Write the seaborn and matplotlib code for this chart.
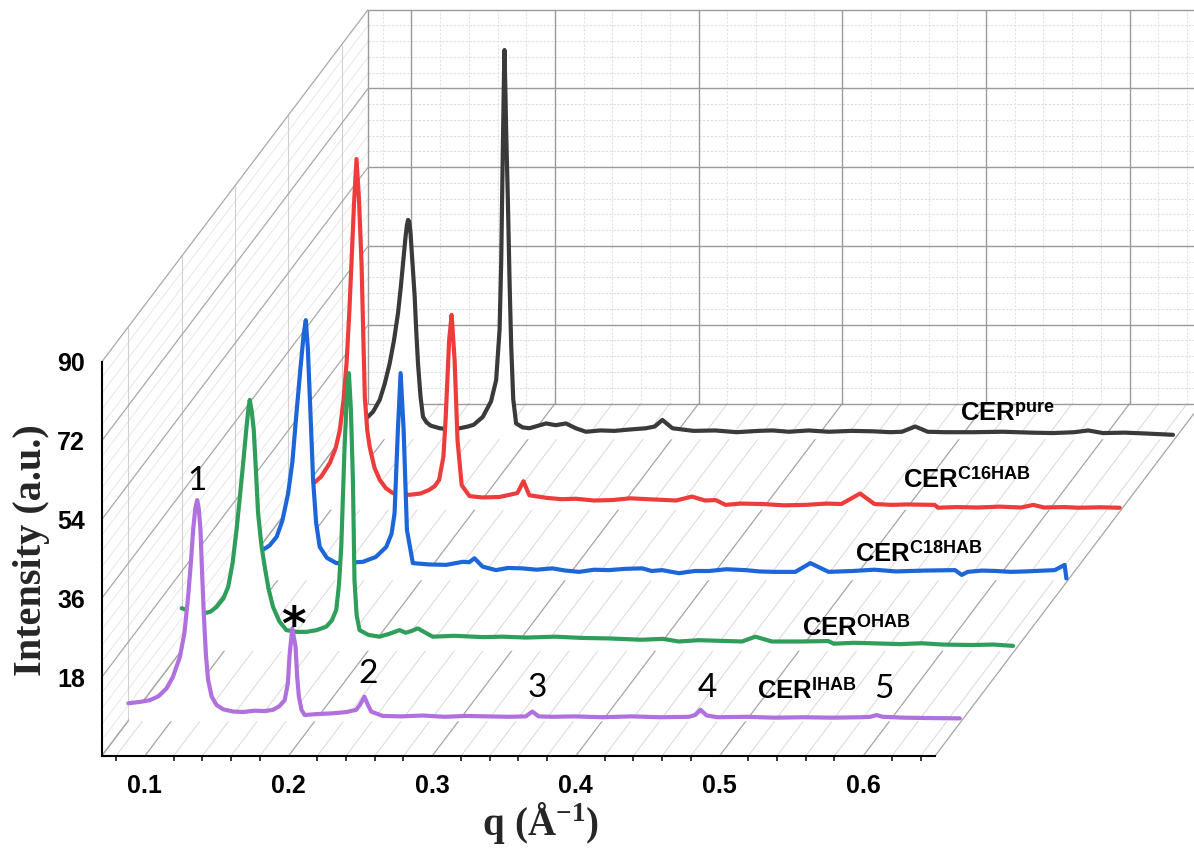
import matplotlib
matplotlib.use("Agg")
import numpy as np
import pandas as pd
import matplotlib.pyplot as plt
import seaborn as sns
from matplotlib.ticker import FixedLocator

# ---------------- data ----------------
series_names = ["pure", "C16HAB", "C18HAB", "OHAB", "IHAB"]
series_colors = ["#3a3a3a", "#ee3b3b", "#1c66d9", "#2e9e5a", "#b070de"]

q_pure = [0.070, 0.078, 0.0862, 0.0920, 0.0966, 0.1000, 0.1035, 0.1065, 0.1093, 0.1112,
          0.1128, 0.1145, 0.1155, 0.1163, 0.1171, 0.1180, 0.1186, 0.1197, 0.1209, 0.1220,
          0.1232, 0.1250, 0.1267, 0.1290, 0.1320, 0.1383, 0.1450, 0.1522, 0.1580, 0.1620,
          0.1683, 0.1740, 0.1776, 0.1800, 0.1811, 0.1822, 0.1830, 0.1834, 0.1840, 0.1846,
          0.1857, 0.1870, 0.1881, 0.1895, 0.1915, 0.1960, 0.2008, 0.2060, 0.2124, 0.2190,
          0.2262, 0.2330, 0.2401, 0.2500, 0.2600, 0.2700, 0.2818, 0.2880, 0.2933, 0.3003,
          0.3150, 0.3300, 0.3450, 0.3600, 0.3700, 0.3813, 0.3950, 0.4090, 0.4250, 0.4400,
          0.4520, 0.4600, 0.4693, 0.4780, 0.4900, 0.5100, 0.5300, 0.5500, 0.5650, 0.5800,
          0.5897, 0.6000, 0.6150, 0.6300, 0.6487]
i_pure = [3.1, 3.5, 4.3, 6.2, 8.9, 12.5, 17.2, 22.5, 28.7, 34.5,
          40.1, 46.0, 48.8, 50.0, 49.6, 47.0, 43.9, 38.5, 32.4, 24.5,
          17.2, 9.5, 5.0, 3.8, 3.0, 2.4, 2.2, 2.4, 2.8, 3.2,
          5.0, 8.5, 13.4, 25.0, 40.1, 65.0, 82.0, 88.8, 80.0, 70.0,
          55.3, 35.0, 21.0, 9.0, 3.5, 2.6, 2.4, 2.9, 3.5, 3.1,
          3.5, 2.4, 1.6, 1.9, 1.8, 2.1, 2.4, 2.8, 4.3, 2.4,
          1.8, 1.9, 1.5, 1.8, 1.9, 1.6, 1.9, 1.6, 1.8, 1.7,
          1.5, 1.6, 2.8, 1.6, 1.5, 1.5, 1.6, 1.4, 1.3, 1.5,
          1.9, 1.3, 1.4, 1.2, 0.9]

q_c16 = [0.070, 0.078, 0.0863, 0.093, 0.0990, 0.1030, 0.1059, 0.1085, 0.1106, 0.1125,
         0.1140, 0.1158, 0.1175, 0.1192, 0.1210, 0.1222, 0.1233, 0.1250, 0.1267, 0.1300,
         0.1337, 0.1380, 0.1427, 0.1545, 0.1620, 0.1680, 0.1720, 0.1750, 0.1780, 0.1795,
         0.1820, 0.1837, 0.1858, 0.1878, 0.1907, 0.1962, 0.2050, 0.2170, 0.2295, 0.2337,
         0.2378, 0.2500, 0.2600, 0.2700, 0.2830, 0.2955, 0.3080, 0.3200, 0.3400, 0.3510,
         0.3600, 0.3675, 0.3744, 0.3850, 0.4000, 0.4150, 0.4300, 0.4450, 0.4550, 0.4680,
         0.4780, 0.4900, 0.5000, 0.5200, 0.5222, 0.5350, 0.5500, 0.5650, 0.5800, 0.5886,
         0.5960, 0.6100, 0.6200, 0.6350, 0.6487]
i_c16 = [3.9, 4.4, 5.5, 7.5, 10.6, 14.0, 18.1, 25.0, 33.4, 45.0,
         56.2, 70.0, 80.0, 71.0, 56.2, 40.0, 25.6, 18.0, 14.2, 9.5,
         6.7, 4.8, 3.7, 3.3, 3.6, 4.4, 5.3, 6.7, 12.0, 20.4,
         38.7, 44.4, 34.0, 15.8, 5.5, 3.0, 2.7, 2.8, 3.7, 6.4,
         3.2, 2.6, 2.3, 2.4, 2.0, 2.1, 2.5, 2.3, 2.0, 2.9,
         2.0, 2.1, 1.0, 1.3, 1.2, 0.9, 1.0, 1.3, 1.2, 3.6,
         1.2, 1.0, 1.1, 1.0, 0.35, 0.5, 0.4, 0.6, 0.4, 1.0,
         0.4, 0.5, 0.35, 0.45, 0.35]

q_c18 = [0.070, 0.078, 0.0874, 0.094, 0.099, 0.103, 0.107, 0.110, 0.1128, 0.1155,
         0.1178, 0.1193, 0.1207, 0.1221, 0.1244, 0.1265, 0.1290, 0.1340, 0.1406, 0.1500,
         0.1591, 0.1680, 0.1753, 0.1790, 0.1811, 0.1834, 0.1853, 0.1874, 0.1897, 0.1938,
         0.2050, 0.2170, 0.2286, 0.2330, 0.2367, 0.2424, 0.2517, 0.2600, 0.2700, 0.2800,
         0.2910, 0.3000, 0.3096, 0.3200, 0.3300, 0.3420, 0.3536, 0.3600, 0.3674, 0.3790,
         0.3900, 0.4000, 0.4120, 0.4253, 0.4350, 0.4450, 0.4600, 0.4705, 0.4832, 0.5000,
         0.5150, 0.5300, 0.5500, 0.5712, 0.5759, 0.5800, 0.5900, 0.6000, 0.6100, 0.6200,
         0.6406, 0.6475, 0.6487]
i_c18 = [5.6, 5.8, 6.4, 7.8, 9.8, 13.5, 19.7, 27.0, 38.0, 48.0,
         56.0, 59.3, 53.0, 41.8, 22.8, 13.0, 7.5, 5.0, 3.8, 3.9,
         4.1, 5.2, 7.5, 10.5, 15.2, 34.2, 47.2, 34.2, 11.4, 3.8,
         3.5, 3.4, 4.1, 4.0, 4.9, 3.0, 2.2, 2.7, 2.6, 2.3,
         2.6, 2.1, 1.8, 2.3, 2.2, 2.5, 2.6, 2.0, 2.2, 1.5,
         2.0, 2.0, 2.4, 2.2, 1.9, 1.8, 1.8, 3.8, 1.8, 2.0,
         2.3, 1.9, 2.1, 2.2, 1.1, 1.8, 2.1, 2.0, 1.8, 1.9,
         2.2, 3.4, 0.3]

q_ohab = [0.070, 0.077, 0.085, 0.090, 0.0943, 0.099, 0.1024, 0.1055, 0.1082, 0.1105,
          0.1128, 0.1150, 0.1164, 0.1174, 0.1188, 0.1202, 0.1217, 0.1232, 0.1255, 0.1278,
          0.1305, 0.1336, 0.1380, 0.1429, 0.1500, 0.1568, 0.1640, 0.1707, 0.1745, 0.1776,
          0.1795, 0.1811, 0.1834, 0.1850, 0.1864, 0.1878, 0.1892, 0.1903, 0.1918, 0.1938,
          0.2000, 0.2077, 0.2150, 0.2216, 0.2260, 0.2300, 0.2343, 0.2447, 0.2600, 0.2800,
          0.2933, 0.3100, 0.3300, 0.3500, 0.3675, 0.3900, 0.4050, 0.4160, 0.4300, 0.4400,
          0.4600, 0.4693, 0.4808, 0.5000, 0.5200, 0.5240, 0.5380, 0.5500, 0.5700, 0.5850,
          0.6000, 0.6200, 0.6350, 0.6487]
i_ohab = [9.6, 8.8, 8.4, 8.8, 9.9, 11.8, 14.5, 20.0, 27.5, 35.0,
          42.7, 50.5, 55.0, 57.2, 54.5, 50.3, 41.0, 31.3, 24.0, 19.1,
          14.0, 9.9, 6.6, 4.6, 4.2, 4.2, 4.6, 5.4, 6.8, 9.2,
          15.0, 23.7, 46.5, 58.0, 63.3, 55.0, 38.9, 16.0, 8.0, 4.6,
          3.5, 3.1, 3.8, 4.6, 4.0, 4.4, 5.0, 3.1, 3.3, 3.0,
          3.1, 2.9, 3.1, 2.8, 2.7, 2.4, 2.6, 2.0, 2.3, 2.2,
          2.0, 3.1, 2.0, 2.0, 2.1, 1.5, 1.7, 1.6, 1.4, 1.6,
          1.3, 1.2, 1.3, 1.0]

q_ihab = [0.070, 0.078, 0.085, 0.091, 0.0966, 0.101, 0.1059, 0.109, 0.1116, 0.1135,
          0.1151, 0.1166, 0.1179, 0.1190, 0.1202, 0.1213, 0.1225, 0.1240, 0.1255, 0.128,
          0.1314, 0.136, 0.1429, 0.150, 0.158, 0.165, 0.1707, 0.175, 0.1788, 0.1810,
          0.1823, 0.1841, 0.1864, 0.1875, 0.1887, 0.1905, 0.1927, 0.200, 0.2123, 0.222,
          0.2286, 0.2315, 0.2343, 0.2365, 0.239, 0.247, 0.260, 0.275, 0.290, 0.305,
          0.320, 0.335, 0.3466, 0.3512, 0.3555, 0.365, 0.380, 0.400, 0.420, 0.440,
          0.460, 0.4645, 0.4682, 0.4725, 0.480, 0.500, 0.520, 0.540, 0.560, 0.580,
          0.5865, 0.5908, 0.595, 0.610, 0.630, 0.6487]
i_ihab = [4.0, 4.3, 4.7, 5.6, 7.4, 10.0, 14.6, 20.0, 28.3, 36.0,
          43.6, 48.5, 50.4, 48.5, 43.6, 34.0, 24.5, 15.0, 9.3, 5.5,
          3.6, 2.6, 2.1, 2.0, 2.3, 2.2, 2.5, 3.3, 4.7, 8.5,
          15.4, 21.1, 16.9, 10.0, 5.5, 2.5, 1.3, 1.5, 1.7, 2.0,
          2.5, 3.8, 5.5, 3.8, 2.1, 1.1, 1.0, 1.2, 0.9, 1.1,
          1.0, 0.9, 1.0, 2.1, 1.0, 0.9, 1.0, 0.8, 1.0, 0.8,
          0.9, 1.3, 2.5, 1.2, 0.8, 0.9, 0.7, 0.8, 0.7, 0.8,
          0.9, 1.3, 0.9, 0.7, 0.6, 0.55]

x_ticks = [0.1, 0.2, 0.3, 0.4, 0.5, 0.6]
x_tick_labels = ["0.1", "0.2", "0.3", "0.4", "0.5", "0.6"]
y_ticks = [18, 36, 54, 72, 90]
y_tick_labels = ["18", "36", "54", "72", "90"]
peak_marks = ["1", "*", "2", "3", "4", "5"]

# ---------------- style / geometry ----------------
sns.set_theme(style="white")
plt.rcParams["font.family"] = ["Liberation Sans", "DejaVu Sans"]
plt.rcParams["mathtext.fontset"] = "custom"
plt.rcParams["mathtext.rm"] = "Liberation Serif:bold"
plt.rcParams["mathtext.it"] = "Liberation Serif:bold"
plt.rcParams["mathtext.bf"] = "Liberation Serif:bold"
plt.rcParams["mathtext.sf"] = "Liberation Sans:bold"

Q_LO, Q_HI, I_TOP = 0.07, 0.65, 90
DQ = 53.3 / 1436.7      # horizontal shift per depth step (in q units)
DI = 70.5 / 4.378       # vertical shift per depth step (in intensity units)
BACK = 5.0
depths = [4.5, 3.5, 2.5, 1.5, 0.5]

fig = plt.figure(figsize=(11.94, 8.5), dpi=100)
ax = fig.add_axes([0.08518, 0.11059, 0.6979, 0.46353])
ax.patch.set_alpha(0)


def line(xs, ys, **kw):
    ax.plot(xs, ys, clip_on=False, solid_capstyle="butt", **kw)


major_q = list(x_ticks)
minor_q = [round(0.08 + 0.02 * k, 2) for k in range(29)]
minor_q = [v for v in minor_q if min(abs(v - m) for m in major_q) > 1e-6 and v < Q_HI]
major_i = [0, 18, 36, 54, 72, 90]
minor_i = [round(3.6 * k, 1) for k in range(1, 25)]
minor_i = [v for v in minor_i if min(abs(v - m) for m in major_i) > 1e-6]

# floor (I = 0 plane)
for qv in minor_q:
    line([qv, qv + BACK * DQ], [0, BACK * DI], color="#d8d8d8", lw=0.7, zorder=0.5)
for qv in [Q_LO] + major_q + [Q_HI]:
    line([qv, qv + BACK * DQ], [0, BACK * DI], color="#a5a5a5", lw=0.9, zorder=0.6)

# back wall
bx0, bx1, by0 = Q_LO + BACK * DQ, Q_HI + BACK * DQ, BACK * DI
for iv in minor_i:
    line([bx0, bx1], [iv + by0] * 2, color="#dedede", lw=0.8, ls=(0, (2, 1.5)), zorder=0.5)
for qv in minor_q:
    line([qv + BACK * DQ] * 2, [by0, by0 + I_TOP], color="#e2e2e2", lw=0.8, ls=(0, (2, 1.5)), zorder=0.5)
for iv in major_i:
    line([bx0, bx1], [iv + by0] * 2, color="#9a9a9a", lw=1.0, zorder=0.6)
for qv in [Q_LO] + major_q:
    line([qv + BACK * DQ] * 2, [by0, by0 + I_TOP], color="#9a9a9a", lw=1.0, zorder=0.6)

# left wall
for iv in minor_i:
    line([Q_LO, Q_LO + BACK * DQ], [iv, iv + BACK * DI], color="#e4e4e4", lw=0.6, zorder=0.5)
for d in depths:
    line([Q_LO + d * DQ] * 2, [d * DI, d * DI + I_TOP], color="#d0d0d0", lw=0.8, zorder=0.55)
for iv in major_i:
    line([Q_LO, Q_LO + BACK * DQ], [iv, iv + BACK * DI], color="#a8a8a8", lw=0.9, zorder=0.6)

# ---------------- series (back to front) ----------------
qs = [q_pure, q_c16, q_c18, q_ohab, q_ihab]
ins = [i_pure, i_c16, i_c18, i_ohab, i_ihab]
for k, (q, iv, c, d) in enumerate(zip(qs, ins, series_colors, depths)):
    xs = np.asarray(q) + d * DQ
    ys = np.asarray(iv) + d * DI
    z = 3 + 2 * k
    poly = ax.fill_between(xs, ys, d * DI, color="white", lw=0, zorder=z)
    poly.set_clip_on(False)
    df = pd.DataFrame({"q": xs, "I": ys})
    sns.lineplot(data=df, x="q", y="I", ax=ax, color=c, lw=3.0, zorder=z + 1,
                 sort=False, estimator=None, legend=False, clip_on=False)

# series labels (front-plane coordinates of the label anchors)
label_pos = [(0.6674, 76.5), (0.6277, 61.2), (0.5944, 44.5), (0.5575, 27.6), (0.5261, 13.2)]
for name, (lq, li) in zip(series_names, label_pos):
    ax.text(lq, li, r"$\mathsf{CER}^{\mathsf{%s}}$" % name, fontsize=18.5, ha="left",
            va="baseline", color="black", clip_on=False, zorder=30)

# peak index marks
mark_pos = [(0.1361, 60.8), (0.2032, 26.6), (0.2556, 16.7), (0.3733, 13.5), (0.4913, 13.5), (0.6142, 13.2)]
for m, (mq, mi) in zip(peak_marks, mark_pos):
    if m == "*":
        ax.text(mq, mi, m, fontsize=34, family="DejaVu Sans", weight="bold", ha="center",
                va="baseline", color="black", clip_on=False, zorder=30)
    else:
        ax.text(mq, mi, m, fontsize=24, family="Lato", ha="center", va="baseline",
                color="black", clip_on=False, zorder=30)

# ---------------- front axes ----------------
ax.set_xlim(Q_LO, Q_HI)
ax.set_ylim(0, I_TOP)
ax.xaxis.set_major_locator(FixedLocator(x_ticks))
ax.xaxis.set_minor_locator(FixedLocator(minor_q))
ax.yaxis.set_major_locator(FixedLocator(y_ticks))
ax.set_xticklabels(x_tick_labels)
ax.set_yticklabels(y_tick_labels)
for s in ["top", "right"]:
    ax.spines[s].set_visible(False)
for s in ["left", "bottom"]:
    ax.spines[s].set_color("black")
    ax.spines[s].set_linewidth(1.5)
    ax.spines[s].set_zorder(25)
ax.tick_params(axis="both", which="major", direction="out", length=6, width=1.3,
               color="black", labelsize=18, labelcolor="black")
ax.tick_params(axis="x", which="major", pad=7)
ax.tick_params(axis="y", which="major", pad=6)
ax.tick_params(axis="x", which="minor", direction="out", length=3.5, width=1.1,
               color="black", bottom=True)
for lab in ax.get_xticklabels() + ax.get_yticklabels():
    lab.set_fontweight("bold")

ax.set_xlabel(r"$\mathrm{q\ (Å^{-1})}$", fontsize=28)
ax.xaxis.set_label_coords(0.527, -0.112)
ax.set_ylabel("Intensity (a.u.)", family="Liberation Serif", weight="bold", fontsize=29)
ax.yaxis.set_label_coords(-0.062, 0.523)
ax.grid(False)

fig.savefig("out.png", dpi=100)
